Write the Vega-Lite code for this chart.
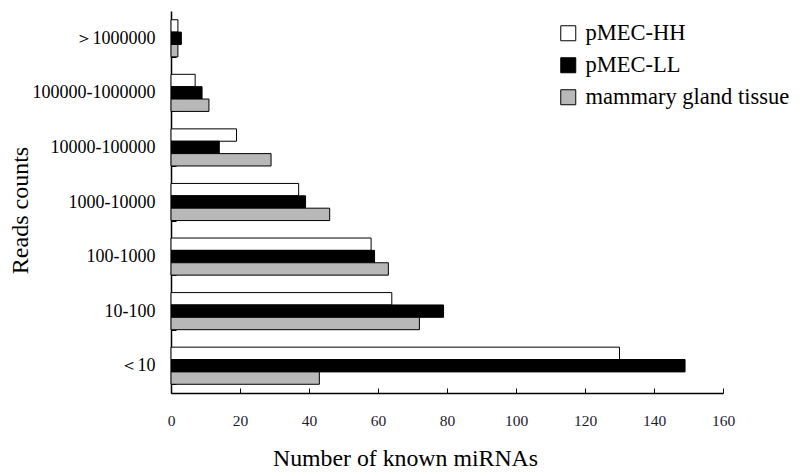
{
  "$schema": "https://vega.github.io/schema/vega-lite/v6.json",
  "width": 552,
  "height": 382,
  "autosize": {"type": "none"},
  "padding": {"left": 171, "top": 11, "right": 77, "bottom": 83},
  "background": "white",
  "config": {"view": {"stroke": null}, "font": "Liberation Serif"},
  "data": {
    "values": [
      {"range": "＞1000000", "series": "pMEC-HH", "count": 2},
      {"range": "＞1000000", "series": "pMEC-LL", "count": 3},
      {"range": "＞1000000", "series": "mammary gland tissue", "count": 2},
      {"range": "100000-1000000", "series": "pMEC-HH", "count": 7},
      {"range": "100000-1000000", "series": "pMEC-LL", "count": 9},
      {"range": "100000-1000000", "series": "mammary gland tissue", "count": 11},
      {"range": "10000-100000", "series": "pMEC-HH", "count": 19},
      {"range": "10000-100000", "series": "pMEC-LL", "count": 14},
      {"range": "10000-100000", "series": "mammary gland tissue", "count": 29},
      {"range": "1000-10000", "series": "pMEC-HH", "count": 37},
      {"range": "1000-10000", "series": "pMEC-LL", "count": 39},
      {"range": "1000-10000", "series": "mammary gland tissue", "count": 46},
      {"range": "100-1000", "series": "pMEC-HH", "count": 58},
      {"range": "100-1000", "series": "pMEC-LL", "count": 59},
      {"range": "100-1000", "series": "mammary gland tissue", "count": 63},
      {"range": "10-100", "series": "pMEC-HH", "count": 64},
      {"range": "10-100", "series": "pMEC-LL", "count": 79},
      {"range": "10-100", "series": "mammary gland tissue", "count": 72},
      {"range": "＜10", "series": "pMEC-HH", "count": 130},
      {"range": "＜10", "series": "pMEC-LL", "count": 149},
      {"range": "＜10", "series": "mammary gland tissue", "count": 43}
    ]
  },
  "mark": {"type": "bar", "stroke": "black", "strokeWidth": 1},
  "encoding": {
    "y": {
      "field": "range",
      "type": "nominal",
      "sort": ["＞1000000", "100000-1000000", "10000-100000", "1000-10000", "100-1000", "10-100", "＜10"],
      "scale": {"paddingInner": 0.32, "paddingOuter": 0.16},
      "axis": {
        "title": "Reads counts",
        "titleFont": "Liberation Serif",
        "titleFontSize": 24,
        "titleFontWeight": "normal",
        "titleColor": "black",
        "titleX": -144,
        "titleY": 199,
        "titleAlign": "center",
        "titleBaseline": "alphabetic",
        "titleAngle": -90,
        "labelFont": "Liberation Serif",
        "labelFontSize": 18,
        "labelColor": "black",
        "labelPadding": 21,
        "tickSize": -5,
        "tickBand": "extent",
        "tickColor": "black",
        "domainColor": "black",
        "domainWidth": 1.5,
        "grid": false
      }
    },
    "yOffset": {
      "field": "series",
      "sort": ["pMEC-HH", "pMEC-LL", "mammary gland tissue"],
      "scale": {"paddingInner": 0, "paddingOuter": 0}
    },
    "x": {
      "field": "count",
      "type": "quantitative",
      "scale": {"domain": [0, 160], "nice": false},
      "axis": {
        "title": "Number of known miRNAs",
        "titleFont": "Liberation Serif",
        "titleFontSize": 23.8,
        "titleFontWeight": "normal",
        "titleColor": "black",
        "titleX": 234,
        "titleY": 72,
        "titleAlign": "center",
        "titleBaseline": "alphabetic",
        "values": [0, 20, 40, 60, 80, 100, 120, 140, 160],
        "labelFont": "Liberation Serif",
        "labelFontSize": 15.5,
        "labelColor": "#1a1a2e",
        "labelPadding": 25,
        "labelFlush": false,
        "tickSize": -5,
        "tickColor": "black",
        "domainColor": "black",
        "domainWidth": 1.5,
        "grid": false
      }
    },
    "fill": {
      "field": "series",
      "type": "nominal",
      "scale": {
        "domain": ["pMEC-HH", "pMEC-LL", "mammary gland tissue"],
        "range": ["white", "black", "#b8b8b8"]
      },
      "legend": {
        "orient": "none",
        "legendX": 386,
        "legendY": 11,
        "title": null,
        "symbolType": "square",
        "symbolSize": 225,
        "symbolStrokeColor": "black",
        "symbolStrokeWidth": 1,
        "symbolOpacity": 1,
        "labelFont": "Liberation Serif",
        "labelFontSize": 22.5,
        "labelColor": "black",
        "labelOffset": 6,
        "labelLimit": 0,
        "rowPadding": 9
      }
    }
  }
}
